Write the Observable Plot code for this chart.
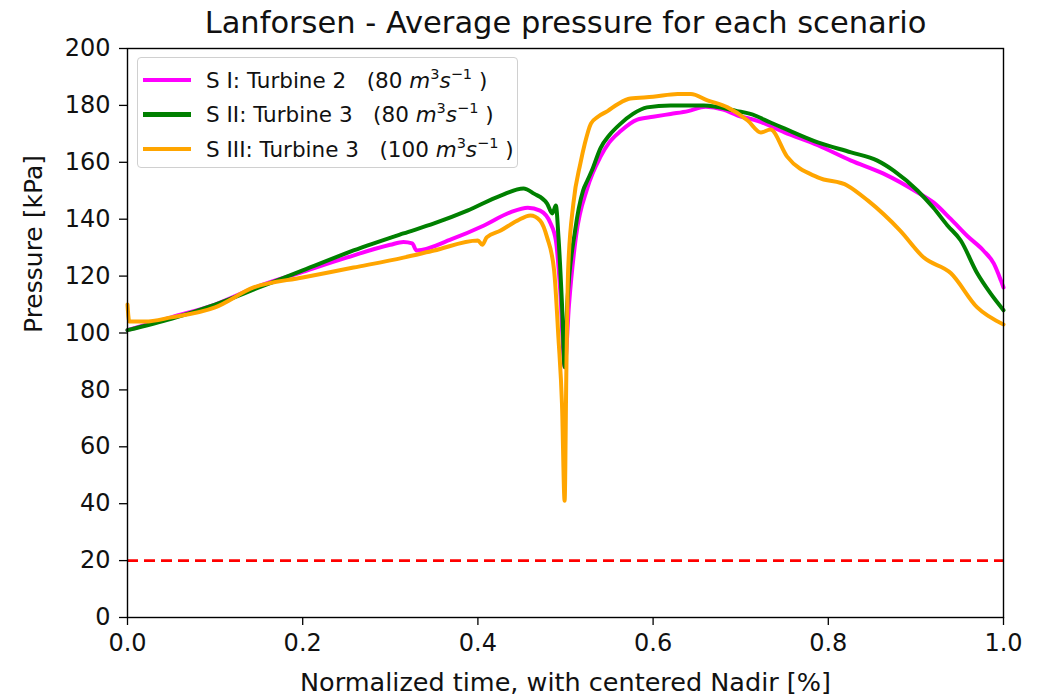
<!DOCTYPE html>
<html>
<head>
<meta charset="utf-8">
<script src="https://cdn.jsdelivr.net/npm/d3@7"></script>
<script src="https://cdn.jsdelivr.net/npm/@observablehq/plot@0.6"></script>
<style>
  html, body { margin: 0; padding: 0; background: #fff; }
  #wrap { position: relative; width: 1048px; height: 697px; font-family: "DejaVu Sans", sans-serif; }
  #legend { position: absolute; left: 137px; top: 57px; width: 381px; height: 111px; box-sizing: border-box;
    border: 1px solid #d0d0d0; border-radius: 4px; background: rgba(255,255,255,0.85); font-size: 21.5px; color: #111; }
  .row { position: absolute; left: 0; height: 30px; display: flex; align-items: center; white-space: nowrap; }
  .sw { width: 48px; height: 4.5px; margin-left: 5px; margin-right: 15px; flex: none; }
  .row i { font-style: italic; }
  .row sup { font-size: 14.5px; vertical-align: 9px; line-height: 0; }
</style>
</head>
<body>
<div id="wrap"></div>
<script>
// ---- Data ----
const seriesNames = ["S I: Turbine 2", "S II: Turbine 3", "S III: Turbine 3"];
const seriesFlow = ["80", "80", "100"];
const seriesColors = ["#ff00ff", "#008000", "#ffa500"];

const tI = [0, 0.05, 0.1, 0.15, 0.2, 0.25, 0.3, 0.315, 0.325, 0.33, 0.37, 0.407, 0.437, 0.457, 0.471, 0.483, 0.489, 0.494, 0.499, 0.504, 0.512, 0.525, 0.54, 0.55, 0.563, 0.582, 0.6, 0.62, 0.64, 0.66, 0.68, 0.696, 0.72, 0.75, 0.788, 0.826, 0.863, 0.902, 0.92, 0.94, 0.959, 0.977, 0.989, 0.997, 1.0];
const pI = [101, 105.5, 110, 116.5, 121.5, 126.5, 131, 132, 131.5, 129, 133, 137.8, 142.4, 144, 143, 138.5, 132.5, 115, 88, 110, 134, 151, 162, 167, 171, 175, 176, 177, 178, 179.5, 178.5, 176.5, 174.5, 170.5, 166, 160.6, 156, 149.4, 145.9, 140, 134, 129, 124.4, 118.5, 116];

const tII = [0, 0.05, 0.1, 0.15, 0.2, 0.258, 0.315, 0.35, 0.388, 0.426, 0.452, 0.464, 0.479, 0.485, 0.489, 0.492, 0.496, 0.499, 0.502, 0.511, 0.52, 0.525, 0.53, 0.54, 0.55, 0.563, 0.577, 0.593, 0.62, 0.658, 0.696, 0.711, 0.734, 0.749, 0.788, 0.826, 0.856, 0.875, 0.902, 0.92, 0.936, 0.951, 0.97, 0.985, 1.0];
const pII = [101, 105, 110, 116, 122, 129, 135, 138.5, 143, 148.3, 150.8, 149, 145.5, 142, 144.8, 133.6, 110, 88, 110, 136, 150, 153.6, 157, 165, 169.5, 173.6, 177, 179.3, 180, 180, 178, 177, 174, 172, 167, 163.5, 160.6, 157, 150, 144, 137.8, 132.6, 121, 114, 108];

const tIII = [0, 0.002, 0.02, 0.05, 0.1, 0.144, 0.2, 0.258, 0.315, 0.35, 0.4, 0.405, 0.41, 0.426, 0.445, 0.46, 0.471, 0.479, 0.487, 0.492, 0.496, 0.499, 0.501, 0.503, 0.509, 0.517, 0.522, 0.529, 0.537, 0.548, 0.56, 0.574, 0.6, 0.628, 0.643, 0.662, 0.685, 0.708, 0.723, 0.734, 0.753, 0.788, 0.822, 0.845, 0.882, 0.909, 0.94, 0.97, 1.0];
const pIII = [110, 104, 104, 105.5, 109, 116, 119.5, 123, 126.5, 129, 132.5, 131, 133.6, 136, 139.5, 141.3, 139.5, 133.6, 122, 98, 75, 41, 87, 122, 145.5, 159.6, 166.5, 173.6, 176, 178, 180.5, 182.4, 183, 184, 184, 181.8, 179.3, 174.7, 170.5, 171.5, 162, 154.7, 151.8, 146.6, 136, 126.5, 121, 109, 103];

const yTicks = [0, 20, 40, 60, 80, 100, 120, 140, 160, 180, 200];
const xTicks = [0, 0.2, 0.4, 0.6, 0.8, 1.0];
const limitLine = [20];

const titleText = "Lanforsen - Average pressure for each scenario";
const xLabel = "Normalized time, with centered Nadir [%]";
const yLabel = "Pressure [kPa]";

// ---- Build ----
const toRows = (ts, ps) => ts.map((t, i) => ({t, p: ps[i]}));
const sets = [toRows(tI, pI), toRows(tII, pII), toRows(tIII, pIII)];

const chart = Plot.plot({
  width: 1048,
  height: 697,
  marginTop: 48,
  marginBottom: 80,
  marginLeft: 127,
  marginRight: 45,
  style: {fontFamily: "DejaVu Sans, sans-serif", fontSize: "24px", color: "#111", background: "#fff"},
  x: {domain: [0, 1]},
  y: {domain: [0, 200]},
  marks: [
    Plot.ruleY(limitLine, {stroke: "#ff0000", strokeWidth: 2.6, strokeDasharray: "11,6"}),
    ...sets.map((rows, i) => Plot.line(rows, {x: "t", y: "p", stroke: seriesColors[i], strokeWidth: 4, strokeLinejoin: "round", strokeLinecap: "round", curve: "monotone-x"})),
    Plot.frame({stroke: "#000", strokeWidth: 1.4}),
    Plot.axisY({ticks: yTicks, tickSize: 8, tickPadding: 9, fontSize: 24, label: null, stroke: "#000", strokeWidth: 1.3}),
    Plot.axisX({ticks: xTicks, tickSize: 8, tickPadding: 8, fontSize: 24, tickFormat: d3.format(".1f"), label: null, stroke: "#000", strokeWidth: 1.3}),
    Plot.text([titleText], {text: d => d, frameAnchor: "top", dy: -25, fontSize: 30.5, lineAnchor: "middle", fill: "#111"}),
    Plot.text([xLabel], {text: d => d, frameAnchor: "bottom", dy: 65, fontSize: 25.5, lineAnchor: "middle", fill: "#111"}),
    Plot.text([yLabel], {text: d => d, frameAnchor: "left", rotate: -90, dx: -94, fontSize: 25, lineAnchor: "middle", fill: "#111"})
  ]
});

const wrap = document.getElementById("wrap");
wrap.appendChild(chart);

// Legend (HTML overlay inside plot area)
const legend = document.createElement("div");
legend.id = "legend";
seriesNames.forEach((name, i) => {
  const row = document.createElement("div");
  row.className = "row";
  row.style.top = (7 + i * 34.5) + "px";
  row.innerHTML = `<span class="sw" style="background:${seriesColors[i]}"></span><span>${name}&nbsp;&nbsp;&nbsp;(${seriesFlow[i]} <i>m</i><sup>3</sup><i>s</i><sup>−1</sup> )</span>`;
  legend.appendChild(row);
});
wrap.appendChild(legend);
</script>
</body>
</html>
